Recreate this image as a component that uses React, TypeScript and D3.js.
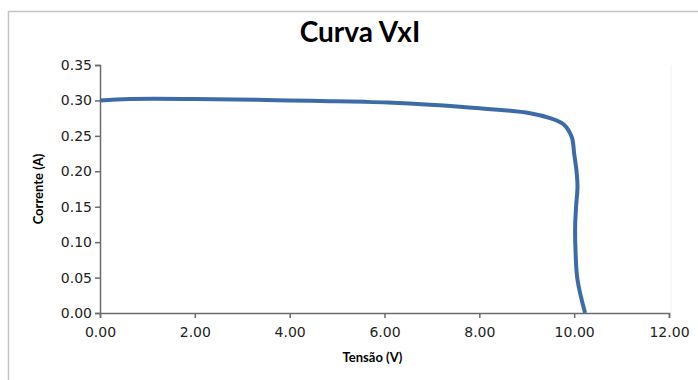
import { useEffect, useRef } from "react"
import * as d3 from "d3"

// V x I curve
const tensao = [0, 0.63, 2.0, 3.3, 4.0, 4.85, 5.59, 6.07, 6.96, 8.01, 9.07, 9.49, 9.78, 9.95, 10.0, 10.05, 10.07, 10.04, 10.02, 10.03, 10.07, 10.23]
const corrente = [0.3, 0.302, 0.302, 0.301, 0.3, 0.299, 0.298, 0.297, 0.294, 0.289, 0.282, 0.275, 0.266, 0.248, 0.225, 0.2, 0.178, 0.15, 0.12, 0.085, 0.047, 0.0]

const xTicks = [0, 2, 4, 6, 8, 10, 12]
const yTicks = [0, 0.05, 0.1, 0.15, 0.2, 0.25, 0.3, 0.35]

const title = "Curva VxI"
const xTitle = "Tensão (V)"
const yTitle = "Corrente (A)"

export default function App() {
  const ref = useRef<SVGSVGElement | null>(null)

  useEffect(() => {
    const svg = d3.select(ref.current)
    svg.selectAll("*").remove()

    const width = 698
    const height = 380
    const margin = { top: 65, right: 29, bottom: 67, left: 100 }

    svg.attr("width", width).attr("height", height)

    // outer frame (top + left only visible)
    svg.append("path")
      .attr("d", `M8.5,${height} V11.5 H${width}`)
      .attr("fill", "none")
      .attr("stroke", "#c4c4c4")
      .attr("stroke-width", 1.5)

    const x = d3.scaleLinear()
      .domain([0, 12])
      .range([margin.left, width - margin.right])

    const y = d3.scaleLinear()
      .domain([0, 0.35])
      .range([height - margin.bottom, margin.top])

    // faint right edge of plot area
    svg.append("line")
      .attr("x1", x(12) + 2).attr("x2", x(12) + 2)
      .attr("y1", y(0.35)).attr("y2", y(0))
      .attr("stroke", "#f2f2f2")

    const tickFont = "'DejaVu Sans', Verdana, sans-serif"

    // X Axis
    const xAxis = svg.append("g")
      .attr("transform", `translate(0,${y(0)})`)
      .call(d3.axisBottom(x).tickValues(xTicks).tickFormat(d3.format(".2f")).tickSizeOuter(0).tickSize(5))

    xAxis.selectAll("text")
      .style("fill", "#222")
      .style("font-family", tickFont)
      .style("font-size", "14px")
      .attr("dy", "1.12em")

    xAxis.selectAll("path, line")
      .style("stroke", "#6b6b6b")
      .style("stroke-width", 1.5)

    // Y Axis
    const yAxis = svg.append("g")
      .attr("transform", `translate(${x(0)},0)`)
      .call(d3.axisLeft(y).tickValues(yTicks).tickFormat(d3.format(".2f")).tickSizeOuter(0).tickSize(5))

    yAxis.selectAll("text")
      .style("fill", "#222")
      .style("font-family", tickFont)
      .style("font-size", "14px")
      .attr("x", -8)

    yAxis.selectAll("path, line")
      .style("stroke", "#6b6b6b")
      .style("stroke-width", 1.5)

    // Curve
    const pts: [number, number][] = tensao.map((v, i) => [v, corrente[i]])
    const line = d3.line<[number, number]>()
      .x(d => x(d[0]))
      .y(d => y(d[1]))
      .curve(d3.curveCatmullRom.alpha(0.5))

    svg.append("path")
      .datum(pts)
      .attr("d", line)
      .attr("fill", "none")
      .attr("stroke", "#3d6ba8")
      .attr("stroke-width", 4)
      .attr("stroke-linejoin", "round")

    const titleFont = "Lato, 'Open Sans', sans-serif"

    svg.append("text")
      .attr("x", 360)
      .attr("y", 42)
      .attr("text-anchor", "middle")
      .style("font-family", titleFont)
      .style("font-weight", "bold")
      .style("font-size", "28px")
      .style("fill", "#000")
      .text(title)

    svg.append("text")
      .attr("x", (x(0) + x(12)) / 2 - 12)
      .attr("y", 362)
      .attr("text-anchor", "middle")
      .style("font-family", titleFont)
      .style("font-weight", "bold")
      .style("font-size", "13px")
      .style("fill", "#000")
      .text(xTitle)

    svg.append("text")
      .attr("transform", `translate(43,${(y(0) + y(0.35)) / 2}) rotate(-90)`)
      .attr("text-anchor", "middle")
      .style("font-family", titleFont)
      .style("font-weight", "bold")
      .style("font-size", "13px")
      .style("fill", "#000")
      .text(yTitle)
  }, [])

  return <svg ref={ref} style={{ position: "absolute", left: 0, top: 0, display: "block" }} />
}
